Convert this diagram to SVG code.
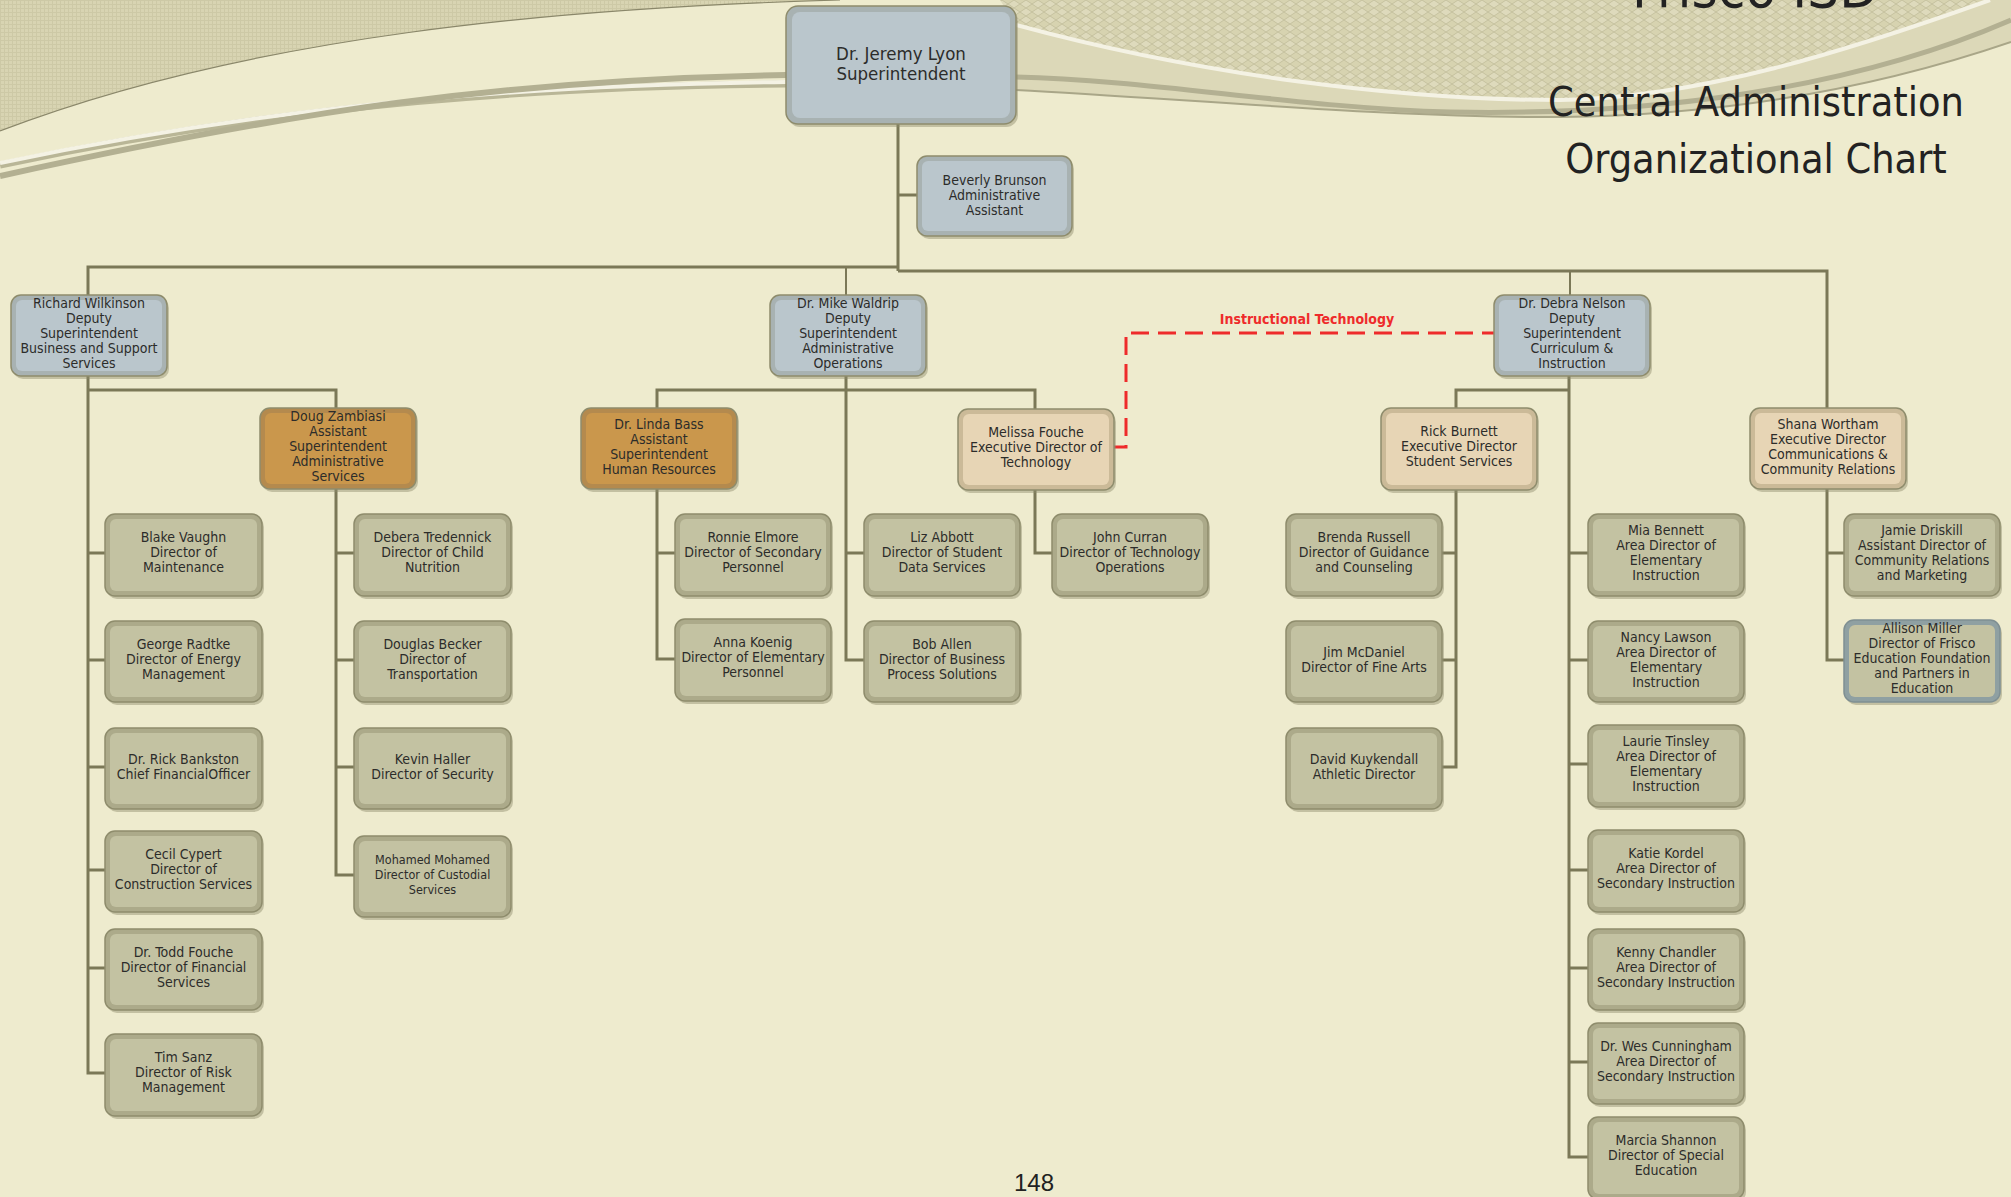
<svg xmlns="http://www.w3.org/2000/svg" width="2011" height="1197" viewBox="0 0 2011 1197">
<defs>
<pattern id="grid" width="4" height="4" patternUnits="userSpaceOnUse"><rect width="4" height="4" fill="#D8D4B2"/><path d="M0,0.5H4M0.5,0V4" stroke="#CDC9A6" stroke-width="1"/></pattern>
<pattern id="diam" width="12" height="8" patternUnits="userSpaceOnUse"><rect width="12" height="8" fill="#D7D3B0"/><path d="M0,4L6,0L12,4L6,8Z" fill="#DEDABC" stroke="#C6C29F" stroke-width="1"/></pattern>
<style>
.t{font-family:"DejaVu Sans Condensed","DejaVu Sans",sans-serif;font-stretch:condensed;font-size:14px;fill:#2c2c2a;text-anchor:middle}
.sm{font-size:12.5px}
.big{font-size:18.5px}
.sh{fill:#8f8c6c;opacity:.45}
.o{stroke:#8E8C6C;stroke-width:1.5}
.g .o{fill:#ACAA8A}.g .i{fill:#C3C2A2}
.b .o{fill:#A8B2B2}.b .i{fill:#BAC6CC}
.r .o{fill:#B48A4E}.r .i{fill:#CA974C}
.p .o{fill:#CBBA98}.p .i{fill:#E7D5B5}
.m .o{fill:#8FA0A2;stroke:#7F8F92}.m .i{fill:#C3C2A2}
.c path{fill:none;stroke:#7B7857;stroke-width:3}
.title{font-family:"DejaVu Sans Condensed","DejaVu Sans",sans-serif;font-stretch:condensed;font-size:41px;fill:#222;text-anchor:middle}
</style>
</defs>
<rect width="2011" height="1197" fill="#EEEBCE"/>
<g id="decor">
<path d="M0,0H840C560,8 250,35 0,131Z" fill="url(#grid)"/>
<path d="M840,0C560,8 250,35 0,131" fill="none" stroke="#8A876A" stroke-width="1.2"/>
<path d="M0,165C300,102 550,86 786,84" fill="none" stroke="#B9B697" stroke-width="7"/>
<path d="M0,163C300,100 550,85 786,82" fill="none" stroke="#F4F2E4" stroke-width="4"/>
<path d="M0,176C300,110 500,80 786,75" fill="none" stroke="#B3B092" stroke-width="6"/>
<path d="M1016,90C1200,100 1400,118 1560,117C1750,115 1900,80 2011,42V0H1016Z" fill="#DCD8B8"/>
<path d="M1000,0L1016,25C1200,75 1400,100 1560,100C1700,98 1850,50 1990,0Z" fill="url(#diam)"/>
<path d="M1016,25C1200,75 1400,100 1560,100C1700,98 1850,50 1990,0" fill="none" stroke="#F4F2E4" stroke-width="4"/>
<path d="M1016,77C1150,80 1300,108 1450,112C1650,116 1850,90 2011,20" fill="none" stroke="#B3B092" stroke-width="5"/>
<path d="M1016,90C1200,100 1400,118 1560,117C1750,115 1900,80 2011,42" fill="none" stroke="#A9A688" stroke-width="2"/>
</g>
<g id="titles">
<text class="title" x="1755" y="7" style="font-size:56px">Frisco ISD</text>
<text class="title" x="1756" y="116">Central Administration</text>
<text class="title" x="1756" y="173">Organizational Chart</text>
</g>
<g id="connectors" class="c">
<path d="M898,124V271"/>
<path d="M898,195H917"/>
<path d="M898,267H88V295"/>
<path d="M846,267V295" style="stroke-width:2"/>
<path d="M898,271H1827V408"/>
<path d="M1570,271V295" style="stroke-width:2"/>
<path d="M88,376V1073H105M88,553H105M88,660H105M88,767H105M88,870H105M88,968H105"/>
<path d="M88,390H336V408"/>
<path d="M336,489V875H354M336,553H354M336,660H354M336,767H354"/>
<path d="M846,376V660H864M846,553H864"/>
<path d="M657,408V390H1035V409"/>
<path d="M657,489V659H675M657,553H675"/>
<path d="M1035,490V553H1052"/>
<path d="M1569,376V1157H1588M1569,553H1588M1569,660H1588M1569,764H1588M1569,870H1588M1569,968H1588M1569,1062H1588"/>
<path d="M1456,408V390H1569"/>
<path d="M1456,490V767H1442M1456,553H1442M1456,660H1442"/>
<path d="M1827,489V660H1844M1827,553H1844"/>
<path d="M1110,447H1126V333H1494" style="stroke:#EE2B2B;stroke-dasharray:18 9"/>
<text x="1307" y="324" style="font-family:'DejaVu Sans Condensed','DejaVu Sans',sans-serif;font-stretch:condensed;font-weight:bold;font-size:14px;fill:#EE2B2B;text-anchor:middle">Instructional Technology</text>
</g>
<g id="n-lyon" class="b"><rect class="sh" x="788" y="9" width="230" height="118" rx="12"/><rect class="o" x="786" y="6" width="230" height="118" rx="12"/><rect class="i" x="792" y="12" width="218" height="106" rx="8"/><text class="t big"><tspan x="901" y="60">Dr. Jeremy Lyon</tspan><tspan x="901" y="80">Superintendent</tspan></text></g>
<g id="n-brunson" class="b"><rect class="sh" x="919" y="159" width="155" height="80" rx="10"/><rect class="o" x="917" y="156" width="155" height="80" rx="10"/><rect class="i" x="922" y="161" width="145" height="70" rx="6"/><text class="t"><tspan x="994.5" y="185">Beverly Brunson</tspan><tspan x="994.5" y="200">Administrative</tspan><tspan x="994.5" y="215">Assistant</tspan></text></g>
<g id="n-wilkinson" class="b"><rect class="sh" x="13" y="298" width="156" height="81" rx="10"/><rect class="o" x="11" y="295" width="156" height="81" rx="10"/><rect class="i" x="16" y="300" width="146" height="71" rx="6"/><text class="t"><tspan x="89" y="308">Richard Wilkinson</tspan><tspan x="89" y="323">Deputy</tspan><tspan x="89" y="338">Superintendent</tspan><tspan x="89" y="353">Business and Support</tspan><tspan x="89" y="368">Services</tspan></text></g>
<g id="n-waldrip" class="b"><rect class="sh" x="772" y="298" width="156" height="81" rx="10"/><rect class="o" x="770" y="295" width="156" height="81" rx="10"/><rect class="i" x="775" y="300" width="146" height="71" rx="6"/><text class="t"><tspan x="848" y="308">Dr. Mike Waldrip</tspan><tspan x="848" y="323">Deputy</tspan><tspan x="848" y="338">Superintendent</tspan><tspan x="848" y="353">Administrative</tspan><tspan x="848" y="368">Operations</tspan></text></g>
<g id="n-nelson" class="b"><rect class="sh" x="1496" y="298" width="156" height="81" rx="10"/><rect class="o" x="1494" y="295" width="156" height="81" rx="10"/><rect class="i" x="1499" y="300" width="146" height="71" rx="6"/><text class="t"><tspan x="1572" y="308">Dr. Debra Nelson</tspan><tspan x="1572" y="323">Deputy</tspan><tspan x="1572" y="338">Superintendent</tspan><tspan x="1572" y="353">Curriculum &amp;</tspan><tspan x="1572" y="368">Instruction</tspan></text></g>
<g id="n-zambiasi" class="r"><rect class="sh" x="262" y="411" width="156" height="81" rx="10"/><rect class="o" x="260" y="408" width="156" height="81" rx="10"/><rect class="i" x="265" y="413" width="146" height="71" rx="6"/><text class="t"><tspan x="338" y="421">Doug Zambiasi</tspan><tspan x="338" y="436">Assistant</tspan><tspan x="338" y="451">Superintendent</tspan><tspan x="338" y="466">Administrative</tspan><tspan x="338" y="481">Services</tspan></text></g>
<g id="n-bass" class="r"><rect class="sh" x="583" y="411" width="156" height="81" rx="10"/><rect class="o" x="581" y="408" width="156" height="81" rx="10"/><rect class="i" x="586" y="413" width="146" height="71" rx="6"/><text class="t"><tspan x="659" y="428.5">Dr. Linda Bass</tspan><tspan x="659" y="443.5">Assistant</tspan><tspan x="659" y="458.5">Superintendent</tspan><tspan x="659" y="473.5">Human Resources</tspan></text></g>
<g id="n-mfouche" class="p"><rect class="sh" x="960" y="412" width="156" height="81" rx="10"/><rect class="o" x="958" y="409" width="156" height="81" rx="10"/><rect class="i" x="963" y="414" width="146" height="71" rx="6"/><text class="t"><tspan x="1036" y="437">Melissa Fouche</tspan><tspan x="1036" y="452">Executive Director of</tspan><tspan x="1036" y="467">Technology</tspan></text></g>
<g id="n-burnett" class="p"><rect class="sh" x="1383" y="411" width="156" height="82" rx="10"/><rect class="o" x="1381" y="408" width="156" height="82" rx="10"/><rect class="i" x="1386" y="413" width="146" height="72" rx="6"/><text class="t"><tspan x="1459" y="436">Rick Burnett</tspan><tspan x="1459" y="451">Executive Director</tspan><tspan x="1459" y="466">Student Services</tspan></text></g>
<g id="n-wortham" class="p"><rect class="sh" x="1752" y="411" width="156" height="81" rx="10"/><rect class="o" x="1750" y="408" width="156" height="81" rx="10"/><rect class="i" x="1755" y="413" width="146" height="71" rx="6"/><text class="t"><tspan x="1828" y="428.5">Shana Wortham</tspan><tspan x="1828" y="443.5">Executive Director</tspan><tspan x="1828" y="458.5">Communications &amp;</tspan><tspan x="1828" y="473.5">Community Relations</tspan></text></g>
<g id="n-vaughn" class="g"><rect class="sh" x="107" y="517" width="157" height="82" rx="10"/><rect class="o" x="105" y="514" width="157" height="82" rx="10"/><rect class="i" x="110" y="519" width="147" height="72" rx="6"/><text class="t"><tspan x="183.5" y="542">Blake Vaughn</tspan><tspan x="183.5" y="557">Director of</tspan><tspan x="183.5" y="572">Maintenance</tspan></text></g>
<g id="n-radtke" class="g"><rect class="sh" x="107" y="624" width="157" height="81" rx="10"/><rect class="o" x="105" y="621" width="157" height="81" rx="10"/><rect class="i" x="110" y="626" width="147" height="71" rx="6"/><text class="t"><tspan x="183.5" y="649">George Radtke</tspan><tspan x="183.5" y="664">Director of Energy</tspan><tspan x="183.5" y="679">Management</tspan></text></g>
<g id="n-bankston" class="g"><rect class="sh" x="107" y="731" width="157" height="81" rx="10"/><rect class="o" x="105" y="728" width="157" height="81" rx="10"/><rect class="i" x="110" y="733" width="147" height="71" rx="6"/><text class="t"><tspan x="183.5" y="763.5">Dr. Rick Bankston</tspan><tspan x="183.5" y="778.5">Chief FinancialOfficer</tspan></text></g>
<g id="n-cypert" class="g"><rect class="sh" x="107" y="834" width="157" height="81" rx="10"/><rect class="o" x="105" y="831" width="157" height="81" rx="10"/><rect class="i" x="110" y="836" width="147" height="71" rx="6"/><text class="t"><tspan x="183.5" y="859">Cecil Cypert</tspan><tspan x="183.5" y="874">Director of</tspan><tspan x="183.5" y="889">Construction Services</tspan></text></g>
<g id="n-tfouche" class="g"><rect class="sh" x="107" y="932" width="157" height="81" rx="10"/><rect class="o" x="105" y="929" width="157" height="81" rx="10"/><rect class="i" x="110" y="934" width="147" height="71" rx="6"/><text class="t"><tspan x="183.5" y="957">Dr. Todd Fouche</tspan><tspan x="183.5" y="972">Director of Financial</tspan><tspan x="183.5" y="987">Services</tspan></text></g>
<g id="n-sanz" class="g"><rect class="sh" x="107" y="1037" width="157" height="82" rx="10"/><rect class="o" x="105" y="1034" width="157" height="82" rx="10"/><rect class="i" x="110" y="1039" width="147" height="72" rx="6"/><text class="t"><tspan x="183.5" y="1062">Tim Sanz</tspan><tspan x="183.5" y="1077">Director of Risk</tspan><tspan x="183.5" y="1092">Management</tspan></text></g>
<g id="n-tredennick" class="g"><rect class="sh" x="356" y="517" width="157" height="82" rx="10"/><rect class="o" x="354" y="514" width="157" height="82" rx="10"/><rect class="i" x="359" y="519" width="147" height="72" rx="6"/><text class="t"><tspan x="432.5" y="542">Debera Tredennick</tspan><tspan x="432.5" y="557">Director of Child</tspan><tspan x="432.5" y="572">Nutrition</tspan></text></g>
<g id="n-becker" class="g"><rect class="sh" x="356" y="624" width="157" height="81" rx="10"/><rect class="o" x="354" y="621" width="157" height="81" rx="10"/><rect class="i" x="359" y="626" width="147" height="71" rx="6"/><text class="t"><tspan x="432.5" y="649">Douglas Becker</tspan><tspan x="432.5" y="664">Director of</tspan><tspan x="432.5" y="679">Transportation</tspan></text></g>
<g id="n-haller" class="g"><rect class="sh" x="356" y="731" width="157" height="81" rx="10"/><rect class="o" x="354" y="728" width="157" height="81" rx="10"/><rect class="i" x="359" y="733" width="147" height="71" rx="6"/><text class="t"><tspan x="432.5" y="763.5">Kevin Haller</tspan><tspan x="432.5" y="778.5">Director of Security</tspan></text></g>
<g id="n-mohamed" class="g"><rect class="sh" x="356" y="839" width="157" height="81" rx="10"/><rect class="o" x="354" y="836" width="157" height="81" rx="10"/><rect class="i" x="359" y="841" width="147" height="71" rx="6"/><text class="t sm"><tspan x="432.5" y="864">Mohamed Mohamed</tspan><tspan x="432.5" y="879">Director of Custodial</tspan><tspan x="432.5" y="894">Services</tspan></text></g>
<g id="n-elmore" class="g"><rect class="sh" x="677" y="517" width="156" height="82" rx="10"/><rect class="o" x="675" y="514" width="156" height="82" rx="10"/><rect class="i" x="680" y="519" width="146" height="72" rx="6"/><text class="t"><tspan x="753" y="542">Ronnie Elmore</tspan><tspan x="753" y="557">Director of Secondary</tspan><tspan x="753" y="572">Personnel</tspan></text></g>
<g id="n-koenig" class="g"><rect class="sh" x="677" y="622" width="156" height="82" rx="10"/><rect class="o" x="675" y="619" width="156" height="82" rx="10"/><rect class="i" x="680" y="624" width="146" height="72" rx="6"/><text class="t"><tspan x="753" y="647">Anna Koenig</tspan><tspan x="753" y="662">Director of Elementary</tspan><tspan x="753" y="677">Personnel</tspan></text></g>
<g id="n-abbott" class="g"><rect class="sh" x="866" y="517" width="156" height="82" rx="10"/><rect class="o" x="864" y="514" width="156" height="82" rx="10"/><rect class="i" x="869" y="519" width="146" height="72" rx="6"/><text class="t"><tspan x="942" y="542">Liz Abbott</tspan><tspan x="942" y="557">Director of Student</tspan><tspan x="942" y="572">Data Services</tspan></text></g>
<g id="n-allen" class="g"><rect class="sh" x="866" y="624" width="156" height="81" rx="10"/><rect class="o" x="864" y="621" width="156" height="81" rx="10"/><rect class="i" x="869" y="626" width="146" height="71" rx="6"/><text class="t"><tspan x="942" y="649">Bob Allen</tspan><tspan x="942" y="664">Director of Business</tspan><tspan x="942" y="679">Process Solutions</tspan></text></g>
<g id="n-curran" class="g"><rect class="sh" x="1054" y="517" width="156" height="82" rx="10"/><rect class="o" x="1052" y="514" width="156" height="82" rx="10"/><rect class="i" x="1057" y="519" width="146" height="72" rx="6"/><text class="t"><tspan x="1130" y="542">John Curran</tspan><tspan x="1130" y="557">Director of Technology</tspan><tspan x="1130" y="572">Operations</tspan></text></g>
<g id="n-russell" class="g"><rect class="sh" x="1288" y="517" width="156" height="82" rx="10"/><rect class="o" x="1286" y="514" width="156" height="82" rx="10"/><rect class="i" x="1291" y="519" width="146" height="72" rx="6"/><text class="t"><tspan x="1364" y="542">Brenda Russell</tspan><tspan x="1364" y="557">Director of Guidance</tspan><tspan x="1364" y="572">and Counseling</tspan></text></g>
<g id="n-mcdaniel" class="g"><rect class="sh" x="1288" y="624" width="156" height="81" rx="10"/><rect class="o" x="1286" y="621" width="156" height="81" rx="10"/><rect class="i" x="1291" y="626" width="146" height="71" rx="6"/><text class="t"><tspan x="1364" y="656.5">Jim McDaniel</tspan><tspan x="1364" y="671.5">Director of Fine Arts</tspan></text></g>
<g id="n-kuykendall" class="g"><rect class="sh" x="1288" y="731" width="156" height="81" rx="10"/><rect class="o" x="1286" y="728" width="156" height="81" rx="10"/><rect class="i" x="1291" y="733" width="146" height="71" rx="6"/><text class="t"><tspan x="1364" y="763.5">David Kuykendall</tspan><tspan x="1364" y="778.5">Athletic Director</tspan></text></g>
<g id="n-bennett" class="g"><rect class="sh" x="1590" y="517" width="156" height="82" rx="10"/><rect class="o" x="1588" y="514" width="156" height="82" rx="10"/><rect class="i" x="1593" y="519" width="146" height="72" rx="6"/><text class="t"><tspan x="1666" y="534.5">Mia Bennett</tspan><tspan x="1666" y="549.5">Area Director of</tspan><tspan x="1666" y="564.5">Elementary</tspan><tspan x="1666" y="579.5">Instruction</tspan></text></g>
<g id="n-lawson" class="g"><rect class="sh" x="1590" y="624" width="156" height="81" rx="10"/><rect class="o" x="1588" y="621" width="156" height="81" rx="10"/><rect class="i" x="1593" y="626" width="146" height="71" rx="6"/><text class="t"><tspan x="1666" y="641.5">Nancy Lawson</tspan><tspan x="1666" y="656.5">Area Director of</tspan><tspan x="1666" y="671.5">Elementary</tspan><tspan x="1666" y="686.5">Instruction</tspan></text></g>
<g id="n-tinsley" class="g"><rect class="sh" x="1590" y="728" width="156" height="82" rx="10"/><rect class="o" x="1588" y="725" width="156" height="82" rx="10"/><rect class="i" x="1593" y="730" width="146" height="72" rx="6"/><text class="t"><tspan x="1666" y="745.5">Laurie Tinsley</tspan><tspan x="1666" y="760.5">Area Director of</tspan><tspan x="1666" y="775.5">Elementary</tspan><tspan x="1666" y="790.5">Instruction</tspan></text></g>
<g id="n-kordel" class="g"><rect class="sh" x="1590" y="833" width="156" height="82" rx="10"/><rect class="o" x="1588" y="830" width="156" height="82" rx="10"/><rect class="i" x="1593" y="835" width="146" height="72" rx="6"/><text class="t"><tspan x="1666" y="858">Katie Kordel</tspan><tspan x="1666" y="873">Area Director of</tspan><tspan x="1666" y="888">Secondary Instruction</tspan></text></g>
<g id="n-chandler" class="g"><rect class="sh" x="1590" y="932" width="156" height="81" rx="10"/><rect class="o" x="1588" y="929" width="156" height="81" rx="10"/><rect class="i" x="1593" y="934" width="146" height="71" rx="6"/><text class="t"><tspan x="1666" y="957">Kenny Chandler</tspan><tspan x="1666" y="972">Area Director of</tspan><tspan x="1666" y="987">Secondary Instruction</tspan></text></g>
<g id="n-cunningham" class="g"><rect class="sh" x="1590" y="1026" width="156" height="81" rx="10"/><rect class="o" x="1588" y="1023" width="156" height="81" rx="10"/><rect class="i" x="1593" y="1028" width="146" height="71" rx="6"/><text class="t"><tspan x="1666" y="1051">Dr. Wes Cunningham</tspan><tspan x="1666" y="1066">Area Director of</tspan><tspan x="1666" y="1081">Secondary Instruction</tspan></text></g>
<g id="n-shannon" class="g"><rect class="sh" x="1590" y="1120" width="156" height="82" rx="10"/><rect class="o" x="1588" y="1117" width="156" height="82" rx="10"/><rect class="i" x="1593" y="1122" width="146" height="72" rx="6"/><text class="t"><tspan x="1666" y="1145">Marcia Shannon</tspan><tspan x="1666" y="1160">Director of Special</tspan><tspan x="1666" y="1175">Education</tspan></text></g>
<g id="n-driskill" class="g"><rect class="sh" x="1846" y="517" width="156" height="82" rx="10"/><rect class="o" x="1844" y="514" width="156" height="82" rx="10"/><rect class="i" x="1849" y="519" width="146" height="72" rx="6"/><text class="t"><tspan x="1922" y="534.5">Jamie Driskill</tspan><tspan x="1922" y="549.5">Assistant Director of</tspan><tspan x="1922" y="564.5">Community Relations</tspan><tspan x="1922" y="579.5">and Marketing</tspan></text></g>
<g id="n-miller" class="m"><rect class="sh" x="1846" y="623" width="156" height="82" rx="10"/><rect class="o" x="1844" y="620" width="156" height="82" rx="10"/><rect class="i" x="1849" y="625" width="146" height="72" rx="6"/><text class="t"><tspan x="1922" y="633">Allison Miller</tspan><tspan x="1922" y="648">Director of Frisco</tspan><tspan x="1922" y="663">Education Foundation</tspan><tspan x="1922" y="678">and Partners in</tspan><tspan x="1922" y="693">Education</tspan></text></g>
<text id="page" x="1034" y="1191" style="font-family:'Liberation Sans',Arial,sans-serif;font-size:24px;fill:#222;text-anchor:middle">148</text>
</svg>
